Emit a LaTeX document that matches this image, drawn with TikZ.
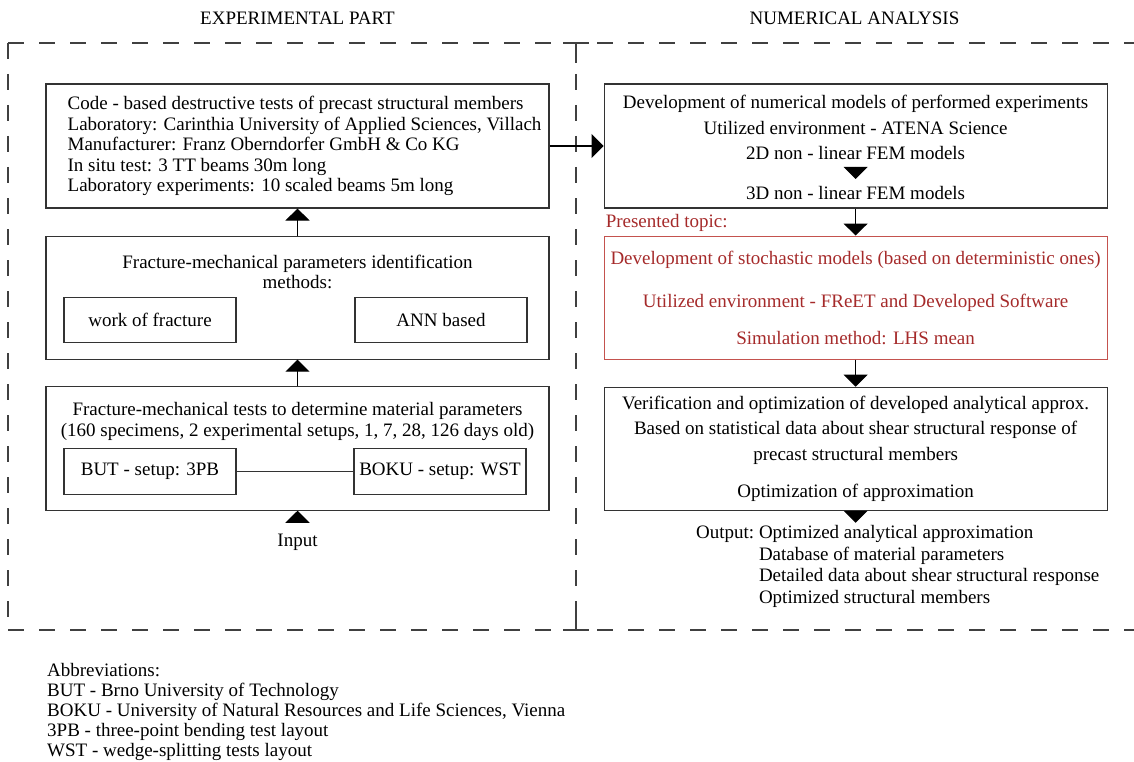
\documentclass[tikz,border=0pt]{standalone}
\usepackage{fontspec}
\setmainfont{Liberation Serif}
\usepackage{tikz}
\usetikzlibrary{arrows.meta,positioning}

\definecolor{topicred}{RGB}{165,42,42}
\definecolor{topicframe}{RGB}{196,82,78}

\begin{document}
\begin{tikzpicture}[x=1pt, y=-1pt, node distance = 27pt and 54pt,
    every node/.style={font=\fontsize{19}{20.5}\selectfont, inner sep=0pt},
    stage/.style={rectangle,minimum width=503pt,minimum height=124pt,line width=1.1pt,draw=black!80},
    method/.style={rectangle,minimum width=172pt,minimum height=45pt,line width=1.1pt,draw=black!80},
    spaced/.style={font=\fontsize{19}{25.5}\selectfont,align=center},
    panel/.style={line width=1.3pt,black!75,dash pattern=on 16pt off 15pt},
    flow/.style={line width=1.1pt,black,-{Triangle[length=12pt,width=24pt]}},
   ]
    \useasboundingbox (0,0) rectangle (1134,762);

    \node (exp) at (297.5,18) {EXPERIMENTAL PART};
    \node (num) at (854.5,18) {NUMERICAL ANALYSIS};

    % dashed frame with the divider between both parts
    \draw[panel] (8,43) -- (1134,43);
    \draw[panel] (8,630) -- (1134,630);
    \draw[panel] (8,43) -- (8,630);
    \draw[panel] (576,43) -- (576,630);
    \draw[panel,solid] (563,43) -- (589,43) (576,43) -- (576,63);
    \draw[panel,solid] (563,630) -- (589,630) (576,630) -- (576,609);

    \node (code) [stage] at (297.5,146) {};
    \node (codetxt) [right=22pt of code.west, align=left] {Code - based destructive tests of precast structural members\\
        Laboratory: Carinthia University of Applied Sciences, Villach\\
        Manufacturer: Franz Oberndorfer GmbH \& Co KG\\
        In situ test: 3 TT beams 30m long\\
        Laboratory experiments: 10 scaled beams 5m long};

    \node (ident) [stage,minimum height=123pt,below=of code] {};
    \node (identtxt) [below=19pt of ident.north, align=center] {Fracture-mechanical parameters identification\\methods:};
    \node (wof) [method,above right=17pt and 18pt of ident.south west] {work of fracture};
    \node (ann) [method,above left=17pt and 22pt of ident.south east] {ANN based};

    \node (tests) [stage,below=26pt of ident] {};
    \node (teststxt) [below=16.5pt of tests.north, align=center] {Fracture-mechanical tests to determine material parameters\\(160 specimens, 2 experimental setups, 1, 7, 28, 126 days old)};
    \node (but) [method,minimum height=46pt,above right=16pt and 18pt of tests.south west] {BUT - setup: 3PB};
    \node (boku) [method,minimum height=46pt,above left=16pt and 23pt of tests.south east] {BOKU - setup: WST};
    \node (input) [below=23.5pt of tests] {Input};

    \node (model) [stage,right=54pt of code] {};
    \node (modeltxt) [spaced,below=11.5pt of model.north] {Development of numerical models of performed experiments\\
        Utilized environment - ATENA Science\\
        2D non - linear FEM models};
    \node (fem3) [below=26pt of modeltxt] {3D non - linear FEM models};

    \node (stoch) [stage,minimum height=123pt,below=of model,draw=topicframe,text=topicred,spaced] {Development of stochastic models (based on deterministic ones)\\[17.5pt]
        Utilized environment - FReET and Developed Software\\[11.5pt]
        Simulation method: LHS mean};
    \node (topic) [above right=4pt and 2pt of stoch.north west, text=topicred] {Presented topic:};

    \node (verif) [stage,minimum height=123pt,below=of stoch,spaced] {Verification and optimization of developed analytical approx.\\
        Based on statistical data about shear structural response of\\
        precast structural members\\[11.5pt]
        Optimization of approximation};
    \coordinate [below=12pt of verif] (outtip);
    \node (output) [anchor=north west, font=\fontsize{19}{21.5}\selectfont] at (696,523.5) {\begin{tabular}{@{}l@{\ }l@{}}
        Output: & Optimized analytical approximation\\
                & Database of material parameters\\
                & Detailed data about shear structural response\\
                & Optimized structural members
        \end{tabular}};

    \node (abbr) [anchor=north west, align=left, font=\fontsize{19}{20}\selectfont] at (47,663) {Abbreviations:\\
        BUT - Brno University of Technology\\
        BOKU - University of Natural Resources and Life Sciences, Vienna\\
        3PB - three-point bending test layout\\
        WST - wedge-splitting tests layout};

    \draw[flow] (ident) -- (code);
    \draw[flow] (tests) -- (ident);
    \draw[flow, shorten <=11.5pt] (input) -- (tests);
    \draw[line width=1.1pt, black!80] (but) -- (boku);
    \draw[flow] (code) -- (model);
    \draw[flow, shorten <=7pt, shorten >=7pt] (modeltxt) -- (fem3);
    \draw[flow] (model) -- (stoch);
    \draw[flow] (stoch) -- (verif);
    \draw[flow] (verif) -- (outtip);
\end{tikzpicture}
\end{document}
